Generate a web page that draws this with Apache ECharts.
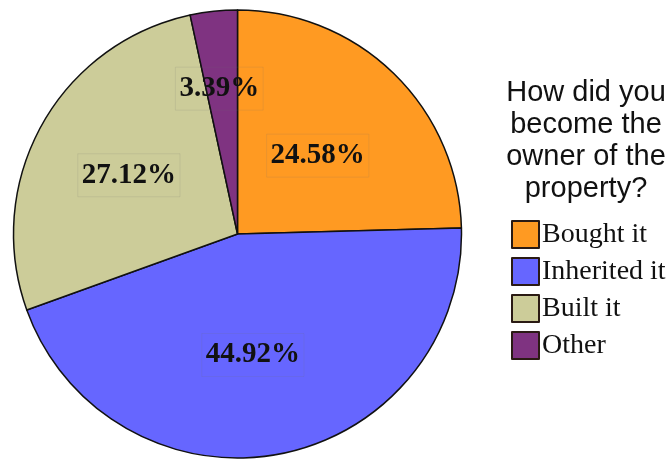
<!DOCTYPE html>
<html>
<head>
<meta charset="utf-8">
<script src="https://cdn.jsdelivr.net/npm/echarts@6/dist/echarts.min.js"></script>
<style>
  html, body { margin: 0; padding: 0; background: #fff; }
  #chart { width: 668px; height: 459px; }
</style>
</head>
<body>
<div id="chart"></div>
<script>
// How respondents came to own their property (percent of answers)
const categories = ['Bought it', 'Inherited it', 'Built it', 'Other'];
const shares = [24.58, 44.92, 27.12, 3.39];
const sliceColors = ['#FF9A22', '#6666FF', '#CCCC99', '#7F3381'];
const legendTitle = 'How did you\nbecome the\nowner of the\nproperty?';

// nudges for the percentage labels so they sit clear of slice edges
const labelNudges = [[0, 4], [-6, 8], [-8, -3], [-6, -31]];

const chart = echarts.init(document.getElementById('chart'), null, { renderer: 'canvas' });

const pieData = categories.map((name, i) => ({
  name: name,
  value: shares[i],
  itemStyle: { color: sliceColors[i] },
  label: { offset: labelNudges[i] }
}));

chart.setOption({
  animation: false,
  backgroundColor: '#ffffff',
  graphic: [{
    type: 'text',
    x: 586,
    y: 77,
    style: {
      text: legendTitle,
      fontFamily: 'Liberation Sans, Arial, sans-serif',
      fontSize: 29,
      lineHeight: 32,
      fill: '#111',
      align: 'center',
      verticalAlign: 'top'
    }
  }],
  legend: {
    orient: 'vertical',
    left: 506,
    top: 215,
    data: categories,
    icon: 'rect',
    itemWidth: 27,
    itemHeight: 27,
    itemGap: 8,
    itemStyle: { borderColor: '#2a1a14', borderWidth: 2 },
    textStyle: {
      fontFamily: 'Liberation Serif, Times New Roman, serif',
      fontSize: 28,
      lineHeight: 27,
      color: '#111',
      padding: [0, 0, 0, -2]
    },
    selectedMode: false
  },
  series: [{
    type: 'pie',
    center: [237.5, 234],
    radius: [0, 224],
    startAngle: 90,
    clockwise: true,
    avoidLabelOverlap: false,
    silent: true,
    itemStyle: { borderColor: '#111', borderWidth: 1.5 },
    label: {
      show: true,
      position: 'inside',
      formatter: p => p.value.toFixed(2) + '%',
      fontFamily: 'Liberation Serif, Times New Roman, serif',
      fontWeight: 'bold',
      fontSize: 29,
      color: '#111',
      padding: [7, 4],
      borderColor: 'rgba(110,110,110,0.14)',
      borderWidth: 1
    },
    labelLine: { show: false },
    emphasis: { disabled: true },
    data: pieData
  }]
});
</script>
</body>
</html>
